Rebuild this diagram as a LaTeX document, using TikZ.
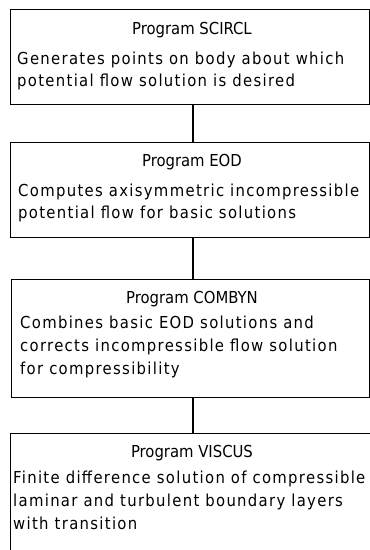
\documentclass[tikz,border=0pt]{standalone}
\usepackage{fontspec}
\setmainfont{DejaVu Sans Condensed}
\newfontfamily\bodyfont[LetterSpace=8]{DejaVu Sans Condensed}
\begin{document}
\begin{tikzpicture}[x=1pt,y=-1pt,
  boxstyle/.style={draw=black, line width=1.4pt, rectangle, anchor=north west, inner sep=0pt},
  ttl/.style={anchor=base, font=\fontsize{16.5}{18}\selectfont, inner sep=0pt},
  txt/.style={anchor=base west, font=\bodyfont\fontsize{16.5}{18}\selectfont, inner sep=0pt},
  link/.style={draw=black, line width=1.6pt}]
\useasboundingbox (0,0) rectangle (370,550);
\clip (0,0) rectangle (370,550);
\node[boxstyle, minimum width=359pt, minimum height=95pt] (box1) at (10,9) {};
\node[boxstyle, minimum width=359pt, minimum height=95pt] (box2) at (10,142) {};
\node[boxstyle, minimum width=358pt, minimum height=118pt] (box3) at (11,279) {};
\node[boxstyle, minimum width=380pt, minimum height=140pt] (box4) at (10,433) {};
\coordinate (cx) at (193,0);
\draw[link] (box1.south -| cx) -- (box2.north -| cx);
\draw[link] (box2.south -| cx) -- (box3.north -| cx);
\draw[link] (box3.south -| cx) -- (box4.north -| cx);
% box 1
\node[ttl] (t1) at (192,34) {Program SCIRCL};
\node[txt] (a1) at (17,64) {Generates points on body about which};
\node[txt] (a2) at (17,86) {potential flow solution is desired};
% box 2
\node[ttl] (t2) at (192,166) {Program EOD};
\node[txt] (b1) at (18,196) {Computes axisymmetric incompressible};
\node[txt] (b2) at (18,218) {potential flow for basic solutions};
% box 3
\node[ttl] (t3) at (192,303) {Program COMBYN};
\node[txt] (c1) at (20,328) {Combines basic EOD solutions and};
\node[txt] (c2) at (20,351) {corrects incompressible flow solution};
\node[txt] (c3) at (20,374) {for compressibility};
% box 4
\node[ttl] (t4) at (192,457) {Program VISCUS};
\node[txt] (d1) at (13,483) {Finite difference solution of compressible};
\node[txt] (d2) at (13,506) {laminar and turbulent boundary layers};
\node[txt] (d3) at (13,529) {with transition};
\end{tikzpicture}
\end{document}
